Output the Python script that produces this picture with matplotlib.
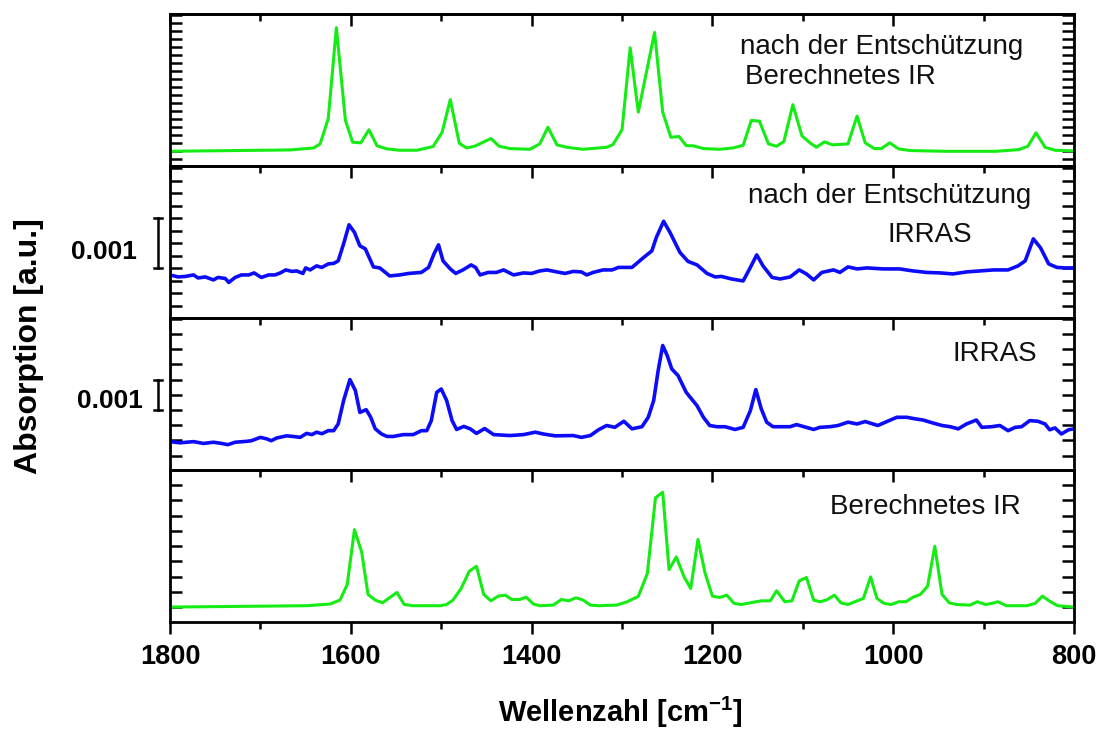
import matplotlib
matplotlib.use("Agg")
import matplotlib.pyplot as plt
import matplotlib.transforms as mtransforms
from matplotlib.ticker import MultipleLocator

plt.rcParams["font.family"] = ["Liberation Sans", "DejaVu Sans"]
plt.rcParams["mathtext.fontset"] = "custom"
plt.rcParams["mathtext.rm"] = "Liberation Sans"
plt.rcParams["mathtext.bf"] = "Liberation Sans:bold"

GREEN = "#14ec14"
BLUE = "#0c0cf8"

# panel 1: calculated IR after deprotection (arb. units)
wn_calc_dep = [1800, 1667, 1641, 1634, 1625, 1616, 1606, 1598, 1589, 1580,
               1571, 1560, 1546, 1527, 1509, 1499, 1490, 1480, 1472, 1463,
               1445, 1436, 1424, 1402, 1391, 1382, 1372, 1361, 1343, 1317,
               1310, 1300, 1291, 1282, 1264, 1255, 1246, 1237, 1229, 1221,
               1210, 1192, 1177, 1166, 1157, 1148, 1138, 1129, 1121, 1111,
               1101, 1092, 1085, 1076, 1067, 1050, 1040, 1031, 1021, 1013,
               1004, 994, 981, 943, 886, 861, 851, 842, 832, 821, 802]
int_calc_dep = [0, 0.17, 0.42, 0.92, 4.05, 15.38, 3.84, 1.13, 1.05, 2.68,
                0.68, 0.3, 0.13, 0.13, 0.59, 2.38, 6.43, 1.0, 0.42, 0.63,
                1.59, 0.63, 0.34, 0.25, 0.92, 3.0, 0.8, 0.5, 0.25, 0.5,
                0.84, 2.68, 12.88, 4.88, 14.8, 4.88, 1.75, 1.84, 0.71, 0.68,
                0.34, 0.25, 0.42, 0.75, 3.84, 3.75, 0.92, 0.63, 1.21, 5.8,
                1.92, 1.05, 0.5, 1.17, 0.8, 0.92, 4.38, 1.05, 0.34, 0.34,
                1.05, 0.3, 0.09, 0.0, 0.0, 0.21, 0.63, 2.3, 0.5, 0.13, 0.05]

# panel 2: IRRAS after deprotection (mAbs)
wn_irras_dep = [1800, 1791, 1783, 1774, 1769, 1761, 1752, 1747, 1739, 1735,
                1728, 1721, 1713, 1707, 1699, 1691, 1684, 1678, 1672, 1665,
                1660, 1653, 1650, 1645, 1638, 1632, 1625, 1619, 1614, 1608,
                1602, 1596, 1590, 1584, 1575, 1568, 1557, 1546, 1536, 1522,
                1514, 1508, 1503, 1498, 1490, 1484, 1476, 1467, 1462, 1457,
                1448, 1439, 1431, 1420, 1409, 1400, 1391, 1383, 1372, 1363,
                1354, 1345, 1339, 1332, 1321, 1311, 1304, 1289, 1276, 1267,
                1262, 1254, 1247, 1236, 1227, 1217, 1206, 1197, 1190, 1179,
                1166, 1158, 1151, 1144, 1134, 1125, 1114, 1104, 1096, 1088,
                1079, 1066, 1059, 1050, 1040, 1029, 1011, 993, 978, 963,
                948, 934, 919, 904, 889, 873, 862, 854, 845, 837,
                828, 819, 810, 800]
abs_irras_dep = [0.62, 0.58, 0.59, 0.62, 0.56, 0.58, 0.52, 0.57, 0.55, 0.47,
                 0.57, 0.62, 0.62, 0.66, 0.57, 0.62, 0.62, 0.66, 0.72, 0.69,
                 0.70, 0.65, 0.76, 0.72, 0.80, 0.77, 0.84, 0.85, 0.90, 1.24,
                 1.62, 1.47, 1.20, 1.14, 0.78, 0.76, 0.60, 0.62, 0.65, 0.67,
                 0.77, 1.04, 1.22, 0.90, 0.74, 0.65, 0.72, 0.82, 0.77, 0.62,
                 0.67, 0.67, 0.72, 0.62, 0.66, 0.65, 0.70, 0.72, 0.68, 0.65,
                 0.69, 0.68, 0.62, 0.67, 0.72, 0.72, 0.77, 0.77, 0.97, 1.10,
                 1.37, 1.69, 1.47, 1.07, 0.89, 0.82, 0.65, 0.58, 0.59, 0.54,
                 0.50, 0.77, 1.02, 0.80, 0.57, 0.54, 0.58, 0.72, 0.64, 0.52,
                 0.67, 0.72, 0.67, 0.78, 0.74, 0.76, 0.74, 0.74, 0.70, 0.67,
                 0.66, 0.64, 0.68, 0.70, 0.72, 0.72, 0.80, 0.90, 1.34, 1.16,
                 0.84, 0.77, 0.76, 0.76]

# panel 3: IRRAS (mAbs)
wn_irras = [1800, 1789, 1774, 1763, 1752, 1743, 1736, 1728, 1715, 1710,
            1700, 1693, 1688, 1682, 1671, 1664, 1656, 1649, 1643, 1638,
            1632, 1625, 1619, 1614, 1608, 1601, 1595, 1590, 1583, 1578,
            1573, 1566, 1560, 1553, 1542, 1531, 1522, 1516, 1511, 1505,
            1500, 1494, 1488, 1483, 1475, 1468, 1461, 1452, 1442, 1424,
            1409, 1396, 1387, 1374, 1354, 1345, 1335, 1326, 1317, 1308,
            1298, 1289, 1278, 1271, 1265, 1260, 1255, 1250, 1245, 1238,
            1229, 1217, 1210, 1203, 1195, 1186, 1175, 1166, 1158, 1152,
            1146, 1140, 1133, 1114, 1107, 1088, 1081, 1070, 1061, 1050,
            1040, 1031, 1017, 1007, 996, 985, 976, 967, 957, 946,
            937, 928, 919, 908, 902, 891, 882, 873, 865, 858,
            849, 840, 832, 827, 821, 814, 806, 800]
abs_irras = [0.46, 0.42, 0.46, 0.40, 0.44, 0.40, 0.36, 0.44, 0.47, 0.49,
             0.60, 0.55, 0.49, 0.58, 0.65, 0.63, 0.60, 0.73, 0.69, 0.77,
             0.72, 0.82, 0.82, 1.04, 1.81, 2.50, 2.14, 1.42, 1.51, 1.26,
             0.88, 0.71, 0.63, 0.63, 0.69, 0.69, 0.82, 0.82, 1.15, 2.08,
             2.19, 1.81, 1.15, 0.86, 0.96, 0.88, 0.73, 0.89, 0.69, 0.66,
             0.69, 0.77, 0.71, 0.65, 0.66, 0.60, 0.66, 0.85, 0.99, 0.93,
             1.13, 0.88, 0.95, 1.26, 1.81, 2.80, 3.62, 3.29, 2.85, 2.63,
             2.08, 1.64, 1.26, 0.99, 0.95, 0.95, 0.86, 0.93, 1.48, 2.17,
             1.54, 1.10, 0.95, 0.95, 1.02, 0.86, 0.93, 0.95, 0.99, 1.10,
             1.04, 1.12, 0.99, 1.12, 1.26, 1.26, 1.21, 1.17, 1.08, 0.99,
             0.95, 0.88, 1.04, 1.17, 0.93, 0.95, 0.99, 0.82, 0.93, 0.95,
             1.15, 1.13, 1.04, 0.85, 0.91, 0.71, 0.85, 0.88]

# panel 4: calculated IR (arb. units)
wn_calc = [1800, 1649, 1623, 1612, 1604, 1596, 1588, 1581, 1573, 1565,
           1549, 1541, 1531, 1501, 1494, 1487, 1478, 1469, 1461, 1453,
           1445, 1437, 1429, 1422, 1413, 1406, 1398, 1391, 1376, 1367,
           1359, 1351, 1343, 1335, 1326, 1306, 1295, 1282, 1272, 1263,
           1255, 1248, 1240, 1231, 1224, 1216, 1208, 1200, 1192, 1184,
           1176, 1168, 1158, 1146, 1136, 1129, 1120, 1112, 1104, 1096,
           1088, 1081, 1074, 1065, 1058, 1050, 1033, 1025, 1018, 1010,
           1002, 994, 986, 978, 970, 962, 954, 946, 938, 930,
           915, 907, 898, 891, 884, 875, 852, 843, 835, 826,
           818, 801]
int_calc = [0, 0.09, 0.2, 0.46, 1.48, 5.08, 3.61, 0.83, 0.46, 0.28,
            0.96, 0.17, 0.09, 0.09, 0.17, 0.46, 1.22, 2.35, 2.68, 0.83,
            0.41, 0.72, 0.78, 0.5, 0.5, 0.65, 0.2, 0.09, 0.13, 0.5,
            0.41, 0.61, 0.46, 0.13, 0.09, 0.13, 0.33, 0.7, 2.2, 7.17,
            7.54, 2.46, 3.29, 1.94, 1.22, 4.44, 2.2, 0.72, 0.63, 0.78,
            0.24, 0.17, 0.28, 0.41, 0.41, 1.07, 0.35, 0.41, 1.72, 1.94,
            0.46, 0.35, 0.46, 0.78, 0.28, 0.17, 0.57, 1.98, 0.57, 0.24,
            0.17, 0.35, 0.35, 0.65, 0.83, 1.37, 3.99, 0.83, 0.28, 0.17,
            0.13, 0.35, 0.17, 0.24, 0.35, 0.09, 0.09, 0.24, 0.72, 0.35,
            0.09, 0.0]

x_ticks = [1800, 1600, 1400, 1200, 1000, 800]
x_labels = ["1800", "1600", "1400", "1200", "1000", "800"]

# (wavenumbers, values, colour, y-limits, y tick step)
panels = [
    (wn_calc_dep, int_calc_dep, GREEN, (-1.875, 17.03), 1.0),
    (wn_irras_dep, abs_irras_dep, BLUE, (-0.244, 2.786), 0.25),
    (wn_irras, abs_irras, BLUE, (-0.477, 4.516), 0.5),
    (wn_calc, int_calc, GREEN, (-0.98, 8.99), 1.0),
]

# scale bars (mAbs): 0.001 absorbance
scale_lo = [0.75, 1.5]
scale_hi = [1.75, 2.5]

fig = plt.figure(figsize=(11.02, 7.31), dpi=100)
gs = fig.add_gridspec(4, 1, left=0.1543, right=0.9746, top=0.9802,
                      bottom=0.1491, hspace=0)
axes = [fig.add_subplot(gs[i]) for i in range(4)]

for ax, (wn, val, color, ylim, step) in zip(axes, panels):
    lw = 2.2 if color == GREEN else 2.6
    ax.plot(wn, val, color=color, lw=lw, solid_joinstyle="round")
    ax.set_xlim(1800, 800)
    ax.set_ylim(*ylim)
    ax.patch.set_visible(False)
    for sp in ax.spines.values():
        sp.set_linewidth(2.0)
    ax.set_xticks(x_ticks)
    ax.xaxis.set_minor_locator(MultipleLocator(100))
    ax.yaxis.set_major_locator(MultipleLocator(step))
    ax.tick_params(axis="x", which="both", direction="out", top=False,
                   bottom=True, width=1.8, labelbottom=False)
    ax.tick_params(axis="x", which="major", length=8.5)
    ax.tick_params(axis="x", which="minor", length=5)
    ax.tick_params(axis="y", which="major", direction="in", left=True,
                   right=True, length=8.5, width=1.8, labelleft=False)

# top ticks of the first panel point inward
top = axes[0].secondary_xaxis("top")
top.set_xticks(x_ticks)
top.xaxis.set_minor_locator(MultipleLocator(100))
top.tick_params(axis="x", which="both", direction="in", width=1.8,
                labeltop=False)
top.tick_params(axis="x", which="major", length=8.5)
top.tick_params(axis="x", which="minor", length=5)
top.spines["top"].set_linewidth(2.0)

axes[3].set_xticks(x_ticks, x_labels, fontsize=19.5, fontweight="bold")
axes[3].tick_params(axis="x", which="major", labelbottom=True, pad=7)

# panel annotations
txt = dict(fontsize=20, ha="left", va="center", color="#111111")
axes[0].text(0.6305, 0.785, "nach der Entschützung", transform=axes[0].transAxes, **txt)
axes[0].text(0.636, 0.587, "Berechnetes IR", transform=axes[0].transAxes, **txt)
axes[1].text(0.639, 0.807, "nach der Entschützung", transform=axes[1].transAxes, **txt)
axes[1].text(0.794, 0.550, "IRRAS", transform=axes[1].transAxes, **txt)
axes[2].text(0.866, 0.766, "IRRAS", transform=axes[2].transAxes, **txt)
axes[3].text(0.730, 0.754, "Berechnetes IR", transform=axes[3].transAxes, **txt)

# 0.001 scale bars
bar_x = -0.0133
cap = 0.0045
label_pos = [(-0.0365, 0.437), (-0.0299, 0.457)]
for ax, lo, hi, (lx, ly) in zip(axes[1:3], scale_lo, scale_hi, label_pos):
    trans = mtransforms.blended_transform_factory(ax.transAxes, ax.transData)
    kw = dict(transform=trans, clip_on=False, color="black", lw=1.8)
    ax.plot([bar_x, bar_x], [lo, hi], **kw)
    ax.plot([bar_x - cap, bar_x + cap], [lo, lo], **kw)
    ax.plot([bar_x - cap, bar_x + cap], [hi, hi], **kw)
    ax.text(lx, ly, "0.001", transform=ax.transAxes, ha="right", va="center",
            fontsize=19, fontweight="bold")

fig.text(0.026, 0.527, "Absorption [a.u.]", rotation=90, ha="center",
         va="center", fontsize=23, fontweight="bold")
fig.text(0.5626, 0.026, r"Wellenzahl [cm$^{\mathbf{-1}}$]", ha="center",
         va="center", fontsize=21, fontweight="bold")

fig.savefig("out.png", dpi=100)
